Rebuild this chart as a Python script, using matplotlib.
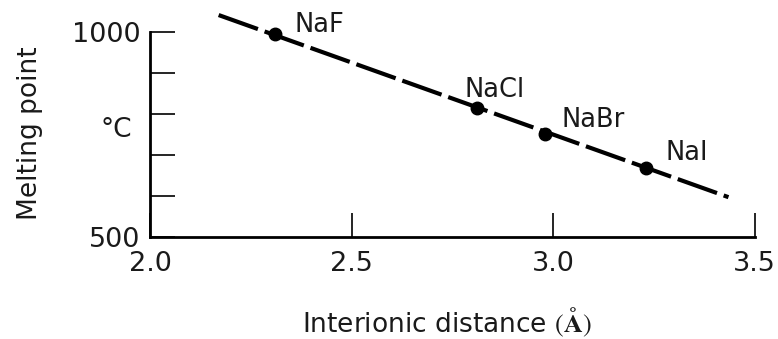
import matplotlib
matplotlib.use("Agg")
import matplotlib.pyplot as plt

# Datos
compuestos = ['NaF', 'NaCl', 'NaBr', 'NaI']
distancia = [2.31, 2.81, 2.98, 3.23]        # Å
punto_fusion = [994, 814, 752, 667]         # °C

# Recta de tendencia (extremos de la línea discontinua)
recta_x = [2.17, 3.435]
recta_y = [1041, 597]

# Desplazamiento de las etiquetas (puntos tipográficos)
offsets = [(14, 2), (-9, 8), (12, 5), (14, 6)]

yticks = [500, 600, 700, 800, 900, 1000]
ytick_labels = ['500', '', '', '', '', '1000']
xticks = [2.0, 2.5, 3.0, 3.5]
xtick_labels = ['2.0', '2.5', '3.0', '3.5']

plt.rcParams['font.family'] = ['DejaVu Sans']
plt.rcParams['mathtext.fontset'] = 'stix'
tc = '#1a1a1a'

fig = plt.figure(figsize=(7.78, 3.39), dpi=100)
ax = fig.add_axes([0.193, 0.301, 0.777, 0.605])

ax.plot(recta_x, recta_y, color='black', lw=3.0, dashes=(10, 1.7), clip_on=False)
ax.plot(distancia, punto_fusion, 'o', color='black', ms=9, clip_on=False)

for nombre, x, y, off in zip(compuestos, distancia, punto_fusion, offsets):
    ax.annotate(nombre, (x, y), xytext=off, textcoords='offset points',
                ha='left', va='baseline', fontsize=18.5, color=tc)

ax.set_xlim(2.0, 3.5)
ax.set_ylim(500, 1000)
ax.set_xticks(xticks)
ax.set_xticklabels(xtick_labels)
ax.set_yticks(yticks)
ax.set_yticklabels(ytick_labels)

for s in ['top', 'right']:
    ax.spines[s].set_visible(False)
for s in ['left', 'bottom']:
    ax.spines[s].set_linewidth(2)

ax.tick_params(axis='y', direction='in', length=18, width=1.2, pad=7,
               labelsize=19.5, labelcolor=tc)
ax.tick_params(axis='x', direction='in', length=17, width=1.2, pad=10,
               labelsize=19.5, labelcolor=tc)

fig.text(0.575, 0.02, r'Interionic distance $(\mathbf{\AA})$', ha='center',
         va='baseline', fontsize=19, color=tc)
fig.text(0.038, 0.607, 'Melting point', rotation=90, ha='center', va='center',
         fontsize=19, color=tc)
fig.text(0.149, 0.617, '°C', ha='center', va='center', fontsize=19, color=tc)

fig.savefig('out.png', dpi=100, facecolor='white')
